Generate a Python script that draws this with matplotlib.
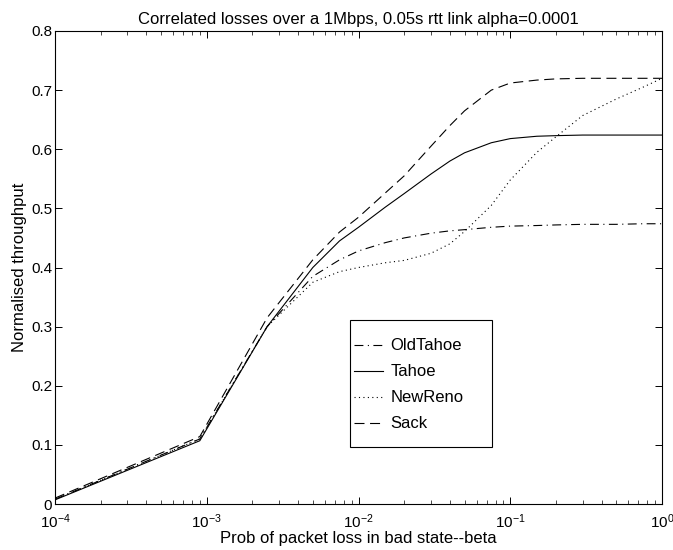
import matplotlib
matplotlib.use("Agg")
import matplotlib.pyplot as plt
from matplotlib.patches import Rectangle
from matplotlib.ticker import FixedLocator, FixedFormatter, LogLocator, NullFormatter

plt.rcParams['font.family'] = ['Liberation Sans', 'DejaVu Sans']

# prob of packet loss in bad state (beta)
beta = [1e-4, 9e-4, 2.5e-3, 5e-3, 7.5e-3, 0.01, 0.015, 0.02, 0.03, 0.04,
        0.05, 0.075, 0.1, 0.15, 0.2, 0.3, 0.5, 0.75, 1.0]

oldtahoe = [0.008, 0.110, 0.300, 0.385, 0.413, 0.428, 0.442, 0.450, 0.458, 0.462,
            0.464, 0.468, 0.470, 0.471, 0.472, 0.473, 0.473, 0.474, 0.474]
tahoe = [0.007, 0.107, 0.300, 0.400, 0.445, 0.468, 0.502, 0.525, 0.558, 0.580,
         0.594, 0.611, 0.618, 0.622, 0.623, 0.624, 0.624, 0.624, 0.624]
newreno = [0.008, 0.110, 0.300, 0.375, 0.393, 0.400, 0.408, 0.412, 0.424, 0.440,
           0.461, 0.505, 0.548, 0.595, 0.621, 0.657, 0.685, 0.705, 0.720]
sack = [0.010, 0.114, 0.315, 0.413, 0.460, 0.485, 0.526, 0.555, 0.605, 0.640,
        0.665, 0.700, 0.712, 0.717, 0.719, 0.720, 0.720, 0.720, 0.720]

yticks = [0, 0.1, 0.2, 0.3, 0.4, 0.5, 0.6, 0.7, 0.8]
ylabels = ["0", "0.1", "0.2", "0.3", "0.4", "0.5", "0.6", "0.7", "0.8"]

fig = plt.figure(figsize=(6.73, 5.5), dpi=100)
ax = fig.add_axes([55 / 673, 46 / 550, 607 / 673, 473 / 550])

lw = 0.8
ax.plot(beta, oldtahoe, color="black", lw=lw, linestyle=(0, (8, 4, 1, 4)), label="OldTahoe")
ax.plot(beta, tahoe, color="black", lw=lw, linestyle="-", label="Tahoe")
ax.plot(beta, newreno, color="black", lw=lw, linestyle=(0, (1, 3)), label="NewReno")
ax.plot(beta, sack, color="black", lw=lw, linestyle=(0, (9, 5)), label="Sack")

ax.set_xscale("log")
ax.set_xlim(1e-4, 1)
ax.set_ylim(0, 0.8)
ax.yaxis.set_major_locator(FixedLocator(yticks))
ax.yaxis.set_major_formatter(FixedFormatter(ylabels))
ax.xaxis.set_major_locator(LogLocator(base=10, numticks=10))
ax.xaxis.set_minor_locator(LogLocator(base=10, subs=range(2, 10), numticks=50))
ax.xaxis.set_minor_formatter(NullFormatter())

ax.tick_params(which="both", direction="in", top=True, right=True, labelsize=11)
ax.tick_params(which="major", length=5, width=0.7)
ax.tick_params(which="minor", length=3, width=0.5)
ax.tick_params(axis="x", which="major", pad=6)
ax.tick_params(axis="y", which="major", pad=2)
for s in ax.spines.values():
    s.set_linewidth(0.8)

ax.set_title("Correlated losses over a 1Mbps, 0.05s rtt link alpha=0.0001", fontsize=12, pad=5)
ax.set_xlabel("Prob of packet loss in bad state--beta", fontsize=12, labelpad=0)
ax.set_ylabel("Normalised throughput", fontsize=12, labelpad=3)

# legend box drawn by hand, entries placed inside it
ax.add_patch(Rectangle((0.486, 0.1205), 0.234, 0.2685, transform=ax.transAxes,
                       facecolor="white", edgecolor="black", lw=0.8, zorder=4))
leg = ax.legend(loc="upper left", bbox_to_anchor=(0.492, 0.350), frameon=False,
                fontsize=12, handlelength=1.75, borderpad=0, labelspacing=0.66,
                handletextpad=0.45, borderaxespad=0)
leg.set_zorder(5)

fig.savefig("out.png", dpi=100)
